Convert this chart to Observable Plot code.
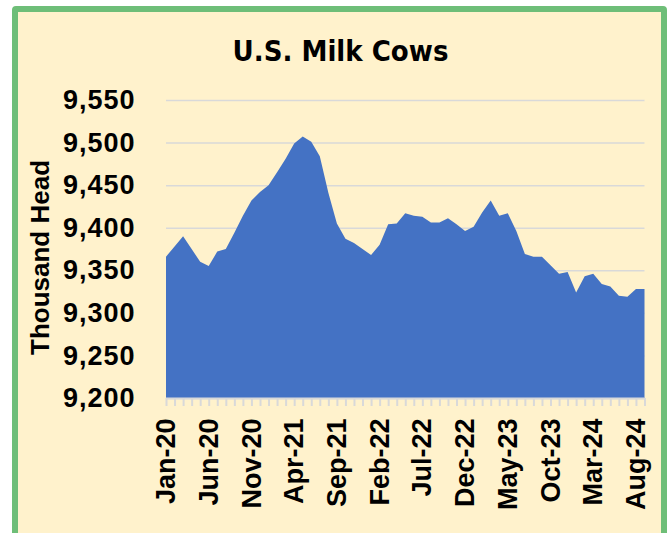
<!DOCTYPE html>
<html>
<head>
<meta charset="utf-8">
<script src="https://cdn.jsdelivr.net/npm/d3@7"></script>
<script src="https://cdn.jsdelivr.net/npm/@observablehq/plot@0.6"></script>
<style>
  html, body { margin: 0; padding: 0; background: #ffffff; overflow: hidden; }
  #wrap { position: relative; width: 670px; height: 533px; overflow: hidden; }
  #frame { position: absolute; left: 12px; top: 6px; width: 655px; height: 545px;
           box-sizing: border-box; border: 6px solid #6EBE78; border-radius: 4px; background: #FFF2CC; }
  #title { position: absolute; left: 0; top: 31px; width: 681px; text-align: center;
           font-family: "DejaVu Sans Condensed", "DejaVu Sans", sans-serif; font-stretch: condensed;
           font-weight: bold; font-size: 29px; color: #000; line-height: 40px; }
  #chart { position: absolute; left: 0; top: 0; }
</style>
</head>
<body>
<div id="wrap">
  <div id="frame"></div>
  <div id="title">U.S. Milk Cows</div>
  <div id="chart"></div>
</div>
<script>
const months = [
  "Jan-20","Feb-20","Mar-20","Apr-20","May-20","Jun-20","Jul-20","Aug-20","Sep-20","Oct-20","Nov-20","Dec-20",
  "Jan-21","Feb-21","Mar-21","Apr-21","May-21","Jun-21","Jul-21","Aug-21","Sep-21","Oct-21","Nov-21","Dec-21",
  "Jan-22","Feb-22","Mar-22","Apr-22","May-22","Jun-22","Jul-22","Aug-22","Sep-22","Oct-22","Nov-22","Dec-22",
  "Jan-23","Feb-23","Mar-23","Apr-23","May-23","Jun-23","Jul-23","Aug-23","Sep-23","Oct-23","Nov-23","Dec-23",
  "Jan-24","Feb-24","Mar-24","Apr-24","May-24","Jun-24","Jul-24","Aug-24","Sep-24"
];
const cows = [
  9366, 9378, 9390, 9375, 9360, 9355, 9372, 9375, 9394, 9414, 9432, 9442,
  9450, 9465, 9481, 9499, 9507, 9501, 9484, 9441, 9405, 9387, 9382, 9375,
  9368, 9380, 9404, 9405, 9417, 9414, 9413, 9406, 9406, 9411, 9404, 9396,
  9401, 9418, 9432, 9414, 9417, 9396, 9369, 9366, 9366, 9356, 9346, 9348,
  9324, 9343, 9346, 9334, 9331, 9320, 9319, 9328, 9328
];
const yTicks = [9200, 9250, 9300, 9350, 9400, 9450, 9500, 9550];
const xLabels = ["Jan-20","Jun-20","Nov-20","Apr-21","Sep-21","Feb-22","Jul-22","Dec-22","May-23","Oct-23","Mar-24","Aug-24"];
const yTitle = "Thousand Head";

const data = months.map((m, i) => ({month: m, value: cows[i]}));
const base = yTicks[0];

const chart = Plot.plot({
  width: 670,
  height: 533,
  marginLeft: 166,
  marginRight: 25.5,
  marginTop: 100,
  marginBottom: 135,
  style: {background: "transparent", fontFamily: "'Liberation Sans', Arial, sans-serif", fontWeight: "bold", fontSize: "27px", color: "#000", overflow: "visible"},
  x: {type: "point", domain: months, padding: 0},
  y: {domain: [9200, 9550]},
  marks: [
    Plot.gridY(yTicks, {stroke: "#D9D9D9", strokeOpacity: 1, strokeWidth: 1.5}),
    Plot.areaY(data, {x: "month", y1: base, y2: "value", fill: "#4472C4"}),
    Plot.ruleY([base], {stroke: "#D9D9D9", strokeWidth: 2}),
    Plot.axisX(months, {tickSize: 8, stroke: "#D9D9D9", strokeWidth: 2, tickFormat: () => "", label: null}),
    Plot.axisX(xLabels, {tickSize: 0, tickPadding: 20, tickRotate: -90, fontSize: 27, fontWeight: "bold", fill: "#000", label: null}),
    Plot.axisY(yTicks, {tickSize: 0, tickPadding: 31, tickFormat: d3.format(","), fontSize: 27, fontWeight: "bold", fill: "#000", label: null}),
    Plot.text([yTitle], {text: d => d, frameAnchor: "left", textAnchor: "middle", lineAnchor: "middle", dx: -126, dy: 8, rotate: -90, fontSize: 26, fontWeight: "bold", fill: "#000"})
  ]
});
chart.querySelectorAll("g[aria-label='y-axis tick label'] text").forEach(t => t.setAttribute("letter-spacing", "1"));
document.getElementById("chart").appendChild(chart);
</script>
</body>
</html>
